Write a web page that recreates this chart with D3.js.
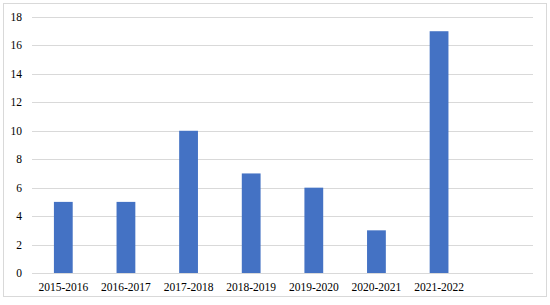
<!DOCTYPE html>
<html lang="en">
<head>
    <meta charset="UTF-8">
    <title>bar chart</title>
    <script src="https://cdn.jsdelivr.net/npm/d3@7"></script>
    <style>
        * { padding: 0; margin: 0; }
        body { background: #fff; }
    </style>
</head>
<body>
    <div class="context"></div>
    <script>
        // data
        const categories = ["2015-2016", "2016-2017", "2017-2018", "2018-2019", "2019-2020", "2020-2021", "2021-2022"];
        const values = [5, 5, 10, 7, 6, 3, 17];
        const yTicks = [0, 2, 4, 6, 8, 10, 12, 14, 16, 18];

        const W = 550, H = 305;
        const plot = { left: 32, right: 533, top: 17, bottom: 273 };
        const font = "'Times New Roman', 'Liberation Serif', 'DejaVu Serif', serif";

        const svg = d3.select(".context").append("svg")
            .attr("width", W)
            .attr("height", H)
            .style("font-family", font);

        // outer frame
        svg.append("rect")
            .attr("x", 3.5).attr("y", 3.5)
            .attr("width", 543).attr("height", 293)
            .attr("fill", "#fff")
            .attr("stroke", "#d9d9d9");

        // one empty slot on the right, like the original
        const x = d3.scaleBand()
            .domain(categories.concat(["_empty"]))
            .range([plot.left, plot.right])
            .paddingInner(0.7)
            .paddingOuter(0.35);

        const y = d3.scaleLinear().domain([0, 18]).range([plot.bottom, plot.top]);

        // gridlines
        svg.append("g").selectAll("line").data(yTicks).enter().append("line")
            .attr("x1", plot.left).attr("x2", plot.right)
            .attr("y1", d => Math.round(y(d)) + 0.5)
            .attr("y2", d => Math.round(y(d)) + 0.5)
            .attr("stroke", "#d9d9d9")
            .attr("stroke-width", 1);

        // y labels
        svg.append("g").selectAll("text").data(yTicks).enter().append("text")
            .attr("x", 22)
            .attr("y", d => y(d))
            .attr("dy", "0.35em")
            .attr("text-anchor", "end")
            .attr("font-family", font)
            .attr("font-size", 11.5)
            .attr("fill", "#000")
            .text(d => d);

        // bars
        svg.append("g").selectAll("rect").data(values).enter().append("rect")
            .attr("x", (d, i) => x(categories[i]))
            .attr("y", d => y(d))
            .attr("width", x.bandwidth())
            .attr("height", d => y(0) - y(d))
            .attr("fill", "#4472c4");

        // x labels
        svg.append("g").selectAll("text").data(categories).enter().append("text")
            .attr("x", d => x(d) + x.bandwidth() / 2)
            .attr("y", 287)
            .attr("dy", "0.35em")
            .attr("text-anchor", "middle")
            .attr("font-family", font)
            .attr("font-size", 11.5)
            .attr("fill", "#000")
            .text(d => d);
    </script>
</body>
</html>
